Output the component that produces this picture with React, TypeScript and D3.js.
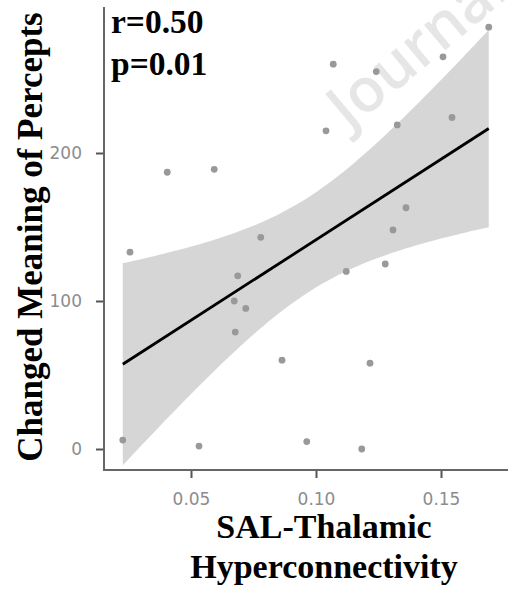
import React, { useEffect, useRef } from "react";
import * as d3 from "d3";

// values
const connectivity = [0.0227, 0.0256, 0.0405, 0.0593, 0.0687, 0.0673, 0.0719, 0.0677, 0.0779, 0.0864, 0.0532, 0.0963, 0.104, 0.1069, 0.1121, 0.1183, 0.1216, 0.1241, 0.1277, 0.1308, 0.1325, 0.136, 0.1508, 0.1544, 0.1691];
const meaning = [6, 133, 187, 189, 117, 100, 95, 79, 143, 60, 2, 5, 215, 260, 120, 0, 58, 255, 125, 148, 219, 163, 265, 224, 285];
const xTicks = [0.05, 0.1, 0.15];
const yTicks = [0, 100, 200];
const statLabels = ["r=0.50", "p=0.01"];
const xTitle = ["SAL-Thalamic", "Hyperconnectivity"];
const yTitle = "Changed Meaning of Percepts";
const T_CRIT = 2.069; // t(0.975, df=23)

export default function App() {
  const ref = useRef<SVGSVGElement>(null);

  useEffect(() => {
    const svg = d3.select(ref.current);
    svg.selectAll("*").remove();

    const x = d3.scaleLinear().domain([0.05, 0.15]).range([191, 441]);
    const y = d3.scaleLinear().domain([0, 200]).range([449, 153]);

    // watermark
    svg.append("text")
      .attr("transform", "translate(349,131) rotate(-40)")
      .attr("font-family", "Open Sans, sans-serif")
      .attr("font-weight", 600)
      .attr("font-size", 61)
      .attr("fill", "#e6e6e6")
      .text("Journal Pre-proof");

    // linear fit + 95% CI
    const pts = connectivity.map((c, i) => [c, meaning[i]]);
    const n = pts.length;
    const mx = d3.mean(connectivity)!;
    const my = d3.mean(meaning)!;
    const sxx = d3.sum(connectivity, c => (c - mx) ** 2);
    const sxy = d3.sum(pts, p => (p[0] - mx) * (p[1] - my));
    const slope = sxy / sxx;
    const intercept = my - slope * mx;
    const fit = (v: number) => intercept + slope * v;
    const sse = d3.sum(pts, p => (p[1] - fit(p[0])) ** 2);
    const s = Math.sqrt(sse / (n - 2));
    const half = (v: number) => T_CRIT * s * Math.sqrt(1 / n + (v - mx) ** 2 / sxx);

    const [xmin, xmax] = d3.extent(connectivity) as [number, number];
    const grid = d3.range(81).map(i => xmin + ((xmax - xmin) * i) / 80);

    svg.append("g")
      .selectAll("circle")
      .data(pts)
      .join("circle")
      .attr("cx", d => x(d[0]))
      .attr("cy", d => y(d[1]))
      .attr("r", 3.4)
      .attr("fill", "#999");

    svg.append("path")
      .datum(grid)
      .attr("d", d3.area<number>()
        .x(d => x(d))
        .y0(d => y(fit(d) - half(d)))
        .y1(d => y(fit(d) + half(d))))
      .attr("fill", "#999")
      .attr("fill-opacity", 0.4);

    svg.append("path")
      .datum([xmin, xmax])
      .attr("d", d3.line<number>().x(d => x(d)).y(d => y(fit(d))))
      .attr("stroke", "#000")
      .attr("stroke-width", 2.8)
      .attr("fill", "none");

    // axes
    const yAxis = svg.append("g")
      .attr("transform", "translate(104,0)")
      .call(d3.axisLeft(y).tickValues(yTicks).tickSizeInner(8).tickSizeOuter(0).tickPadding(14));
    yAxis.select(".domain").remove();
    yAxis.append("line").attr("y1", 7).attr("y2", 471).attr("stroke", "#666").attr("stroke-width", 2);

    const xAxis = svg.append("g")
      .attr("transform", "translate(0,470)")
      .call(d3.axisBottom(x).tickValues(xTicks).tickFormat(d3.format(".2f")).tickSizeInner(8).tickSizeOuter(0).tickPadding(15));
    xAxis.select(".domain").remove();
    xAxis.append("line").attr("x1", 103).attr("x2", 508).attr("stroke", "#666").attr("stroke-width", 2);

    svg.selectAll(".tick line").attr("stroke", "#555").attr("stroke-width", 2);
    svg.selectAll(".tick text")
      .attr("font-family", "DejaVu Sans, sans-serif")
      .attr("font-size", 17)
      .attr("fill", "#8c8c8c");

    // titles
    const serif = "Liberation Serif, Times New Roman, serif";
    svg.append("text")
      .attr("transform", "translate(42,237) rotate(-90)")
      .attr("text-anchor", "middle")
      .attr("font-family", serif)
      .attr("font-weight", "bold")
      .attr("font-size", 35)
      .text(yTitle);

    svg.selectAll(".xtitle")
      .data(xTitle)
      .join("text")
      .attr("x", 324)
      .attr("y", (d, i) => 538 + i * 40)
      .attr("text-anchor", "middle")
      .attr("font-family", serif)
      .attr("font-weight", "bold")
      .attr("font-size", 34)
      .text(d => d);

    svg.selectAll(".stat")
      .data(statLabels)
      .join("text")
      .attr("x", 111)
      .attr("y", (d, i) => 33 + i * 42)
      .attr("font-family", serif)
      .attr("font-weight", "bold")
      .attr("font-size", 33.5)
      .text(d => d);
  }, []);

  return (
    <svg ref={ref} width={508} height={590} style={{ position: "absolute", left: 0, top: 0, background: "#fff" }} />
  );
}
